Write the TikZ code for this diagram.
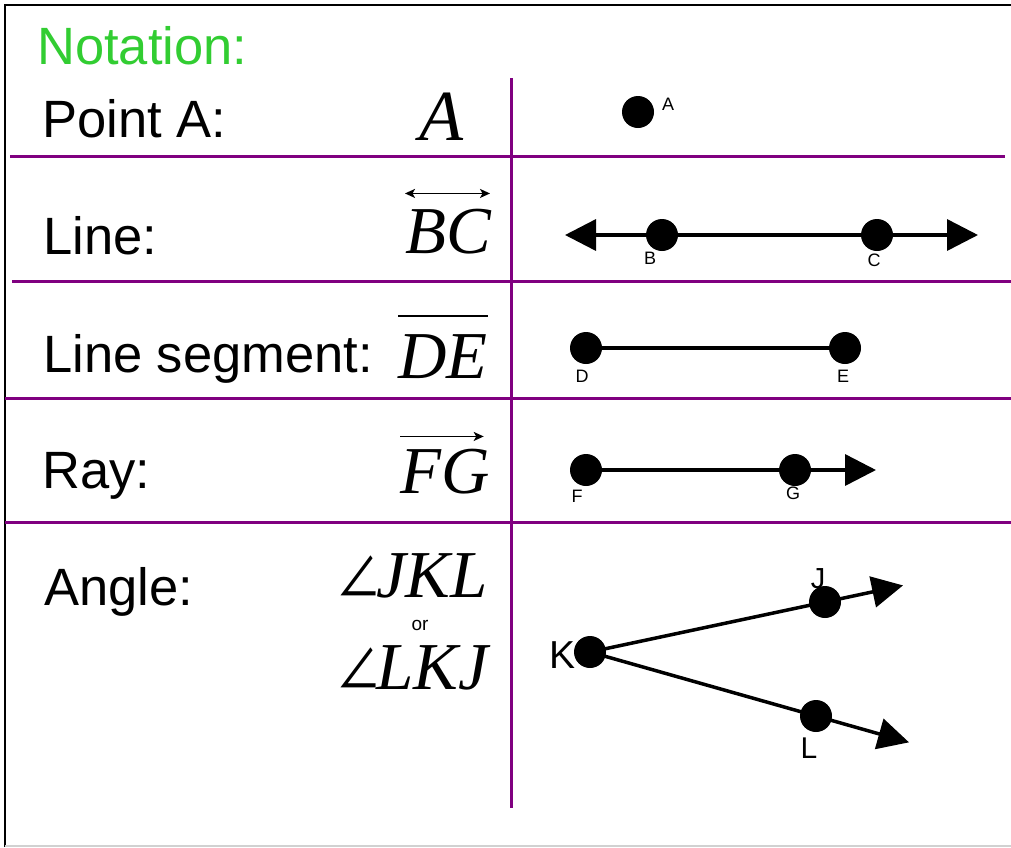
\documentclass[tikz,border=0pt]{standalone}
\usepackage{fontspec}
\setmainfont{Liberation Sans}
\newfontfamily\letterfont{Liberation Serif}
\newfontfamily\cjkangle{Noto Sans CJK JP}
\usetikzlibrary{arrows.meta,calc}
\definecolor{rulepurple}{RGB}{128,0,128}
\definecolor{titlegreen}{RGB}{50,205,50}
% a tall, narrow angle sign
\newcommand\angsign{\scalebox{0.9}[1.2]{\cjkangle\fontsize{50}{50}\selectfont ∠}\kern-5pt}
\tikzset{
  rule/.style={draw=rulepurple, line width=3pt},
  frame/.style={draw=black, line width=2.5pt},
  dot/.style={circle, fill=black, minimum size=32pt, inner sep=0pt},
  lab/.style={font=\fontsize{52.5}{52.5}\selectfont, anchor=base west, inner sep=0pt},
  sym/.style={font=\letterfont\itshape\fontsize{67}{67}\selectfont, anchor=base west, inner sep=0pt},
  tag/.style={font=\fontsize{18}{18}\selectfont, anchor=base, inner sep=0pt},
  bigtag/.style={font=\fontsize{#1}{#1}\selectfont, anchor=base, inner sep=0pt},
  stroke/.style={line width=3.5pt},
  bigtri/.tip={Triangle[length=31pt,width=31pt]},
  smalltip/.tip={Stealth[length=10pt,width=9pt,inset=2.5pt]},
  mini/.style={line width=1.7pt},
}
\begin{document}
\begin{tikzpicture}[x=1pt,y=-1pt]
\useasboundingbox (0,0) rectangle (1011,847);

% outer frame
\draw[frame] (1011,5) -- (5,5) -- (5,847);
\draw[black!18, line width=1.5pt] (5,846) -- (1011,846);

% table rules
\draw[rule] (511,78) -- (511,808);
\draw[rule] (10,156) -- (1005,156);
\draw[rule] (12,281) -- (1011,281);
\draw[rule] (5,398) -- (1011,398);
\draw[rule] (5,522) -- (1011,522);

% left column: names
\node[lab, text=titlegreen] (title) at (37,64) {Notation:};
\node[lab] (pointname) at (42,137) {Point A:};
\node[lab] (linename) at (43,254) {Line:};
\node[lab] (segname) at (43,372) {Line segment:};
\node[lab] (rayname) at (42,488) {Ray:};
\node[lab] (anglename) at (44,605) {Angle:};

% left column: symbols
\node[sym, font=\letterfont\itshape\fontsize{72}{72}\selectfont] (symA) at (419,140) {A};
\node[sym] (symBC) at (405,253) {BC};
\draw[mini, smalltip-smalltip]
  ([yshift=15pt]symBC.north west) -- ([yshift=15pt,xshift=-1pt]symBC.north east);
\node[sym] (symDE) at (398,378) {DE};
\draw[line width=1.7pt] ([yshift=18pt]symDE.north west) -- ([yshift=18pt]symDE.north east);
\node[sym] (symFG) at (400,493) {FG};
\draw[mini, -smalltip] ([yshift=12pt]symFG.north west) -- ([yshift=12pt,xshift=-6pt]symFG.north east);
\node[sym] (symJKL) at (336,597) {\angsign JKL};
\node[tag, font=\fontsize{19}{19}\selectfont] (orword) at (420,630) {or};
\node[sym] (symLKJ) at (336,689) {\angsign LKJ};

% right column: point
\node[dot] (A) at (638,112) {};
\node[tag, anchor=base west] (labA) at (662,110) {A};

% right column: line
\node[dot] (B) at (662,235) {};
\node[dot] (C) at (877,235) {};
\coordinate (lineL) at (565,235);
\coordinate (lineR) at (978,235);
\draw[stroke, bigtri-bigtri] (lineL) -- (B.center) -- (C.center) -- (lineR);
\node[tag] (labB) at (650,264) {B};
\node[tag] (labC) at (874,266) {C};

% right column: segment
\node[dot] (D) at (586,348) {};
\node[dot] (E) at (845,348) {};
\draw[stroke] (D.center) -- (E.center);
\node[tag] (labD) at (582,382) {D};
\node[tag] (labE) at (843,382) {E};

% right column: ray
\node[dot] (F) at (586,470) {};
\node[dot] (G) at (795,470) {};
\coordinate (rayT) at (876,470);
\draw[stroke, -bigtri] (F.center) -- (G.center) -- (rayT);
\node[tag] (labF) at (577,502) {F};
\node[tag] (labG) at (793,499) {G};

% right column: angle
\node[dot] (K) at (590,652) {};
\node[dot] (J) at (825,602) {};
\node[dot] (L) at (816,716) {};
\coordinate (jT) at ($(K.center)!1.332!(J.center)$);
\coordinate (lT) at ($(K.center)!1.4115!(L.center)$);
\draw[stroke, -bigtri] (K.center) -- (J.center) -- (jT);
\draw[stroke, -bigtri] (K.center) -- (L.center) -- (lT);
\node[bigtag=39, anchor=base east] (labK) at (576,668) {K};
\node[bigtag=29] (labJ) at (818,588) {J};
\node[bigtag=30] (labL) at (809,758) {L};
\end{tikzpicture}
\end{document}
